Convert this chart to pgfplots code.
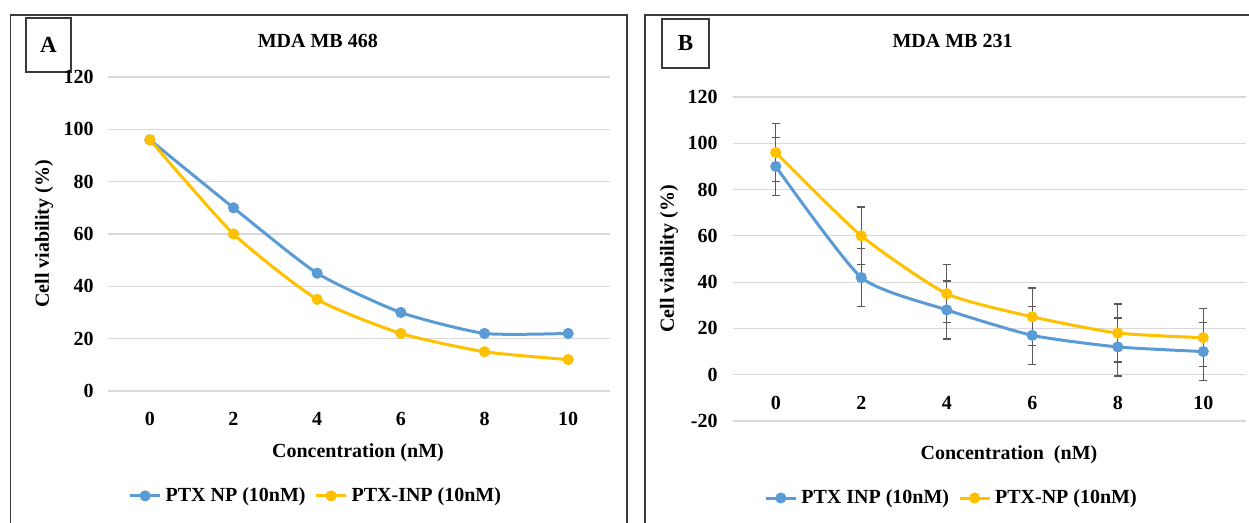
\documentclass[border=0pt]{standalone}
\usepackage{fontspec}
\setmainfont{Liberation Serif}
\usepackage{pgfplots}
\pgfplotsset{compat=1.18}
\definecolor{xlblue}{HTML}{5B9BD5}
\definecolor{xlgold}{HTML}{FFC000}
\definecolor{gridgray}{HTML}{D9D9D9}
\definecolor{errgray}{HTML}{595959}
\definecolor{framegray}{HTML}{3A3A3A}

\newcommand{\chartfont}{\fontsize{10}{12}\selectfont\bfseries}

\pgfplotsset{
  panel/.style={
    scale only axis,
    clip=false,
    xmin=-1, xmax=11,
    xtick={0,2,4,6,8,10},
    ytick distance=20,
    axis line style={draw=none},
    major tick length=0pt,
    ymajorgrids,
    grid style={gridgray, line width=0.6pt},
    tick label style={font=\chartfont},
    /pgf/number format/assume math mode=true,
    label style={font=\chartfont},
    title style={font=\chartfont},
    legend style={draw=none, fill=none, font=\chartfont,
      /tikz/every even column/.append style={column sep=2.5pt}},
    legend columns=2,
    legend image code/.code={%
      \draw[mark repeat=2, mark phase=2, #1]
        plot coordinates {(0pt,0pt) (7.5pt,0pt) (15pt,0pt)};},
  },
  blueline/.style={color=xlblue, line width=1.5pt, mark=*, mark size=2pt, smooth, tension=0.35},
  goldline/.style={color=xlgold, line width=1.5pt, mark=*, mark size=2pt, smooth, tension=0.35},
  errs/.style={error bars/.cd, y dir=both, y explicit,
    error mark=-,
    error bar style={errgray, line width=0.7pt},
    error mark options={rotate=90, errgray, line width=0.7pt, mark size=2pt}},
}

% panel B, with standard deviations
\pgfplotstableread{
conc via  err
0    90   12.5
2    42   12.5
4    28   12.5
6    17   12.5
8    12   12.5
10   10   12.5
}\inpB
\pgfplotstableread{
conc via  err
0    96   12.5
2    60   12.5
4    35   12.5
6    25   12.5
8    18   12.5
10   16   12.5
}\npB

\begin{document}
\begin{tikzpicture}
\useasboundingbox (0,0) rectangle (624.5pt,261.5pt);

% frames round the panels
\draw[framegray, line width=0.75pt] (5.25pt,-3pt) |- (313.4pt,254pt) -- (313.4pt,-3pt);
\draw[framegray, line width=0.75pt] (322.5pt,-3pt) |- (630pt,254pt);
\node[draw=framegray, line width=0.75pt, minimum width=22.5pt, minimum height=27pt,
  inner sep=0pt, font=\fontsize{11.5}{12}\selectfont\bfseries] at (24.25pt,239pt) {A};
\node[draw=framegray, line width=0.75pt, minimum width=23.5pt, minimum height=24.5pt,
  inner sep=0pt, font=\fontsize{11.5}{12}\selectfont\bfseries] at (342.75pt,239.75pt) {B};

\begin{axis}[panel,
  at={(54pt,66pt)}, anchor=south west,
  width=251pt, height=157pt,
  ymin=0, ymax=120,
  xticklabel style={yshift=-6.9pt},
  yticklabel style={xshift=-3.7pt},
  title={MDA MB 468},
  title style={at={(axis description cs:0.418,1)}, anchor=base, yshift=8.7pt},
  xlabel={Concentration (nM)},
  xlabel style={at={(axis description cs:0.498,0)}, anchor=base, yshift=-33.5pt},
  ylabel={Cell viability (\%)},
  ylabel style={at={(axis description cs:-0.1275,0.5)}, anchor=center},
  legend style={at={(axis description cs:0.416,-0.334)}, anchor=center},
]
\addplot[blueline] coordinates {(0,96) (2,70) (4,45) (6,30) (8,22) (10,22)};
\addlegendentry{PTX NP (10nM)}
\addplot[goldline] coordinates {(0,96) (2,60) (4,35) (6,22) (8,15) (10,12)};
\addlegendentry{PTX-INP (10nM)}
\end{axis}

\begin{axis}[panel,
  at={(366.5pt,51pt)}, anchor=south west,
  width=256.5pt, height=162pt,
  ymin=-20, ymax=120,
  xticklabel style={yshift=16.1pt},
  yticklabel style={xshift=-4.2pt},
  title={MDA MB 231},
  title style={at={(axis description cs:0.428,1)}, anchor=base, yshift=18.7pt},
  xlabel={Concentration\ \ (nM)},
  xlabel style={at={(axis description cs:0.538,0)}, anchor=base, yshift=-19.5pt},
  ylabel={Cell viability (\%)},
  ylabel style={at={(axis description cs:-0.1248,0.5)}, anchor=center},
  legend style={at={(axis description cs:0.428,-0.2377)}, anchor=center},
]
\addplot[blueline, errs] table[x=conc, y=via, y error=err] {\inpB};
\addlegendentry{PTX INP (10nM)}
\addplot[goldline, errs] table[x=conc, y=via, y error=err] {\npB};
\addlegendentry{PTX-NP (10nM)}
\end{axis}
\end{tikzpicture}
\end{document}
